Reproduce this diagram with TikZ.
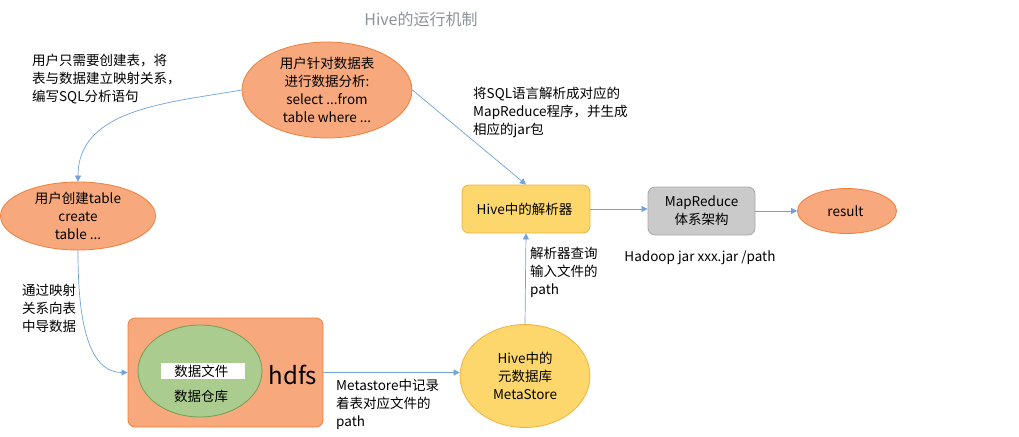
\documentclass[tikz,border=0pt]{standalone}
\usepackage{fontspec}
\setmainfont{Noto Sans CJK SC}
\usetikzlibrary{arrows.meta, positioning, shapes.geometric}

\definecolor{orangefill}{RGB}{247,168,124}
\definecolor{orangeline}{RGB}{236,128,60}
\definecolor{yellowfill}{RGB}{253,214,108}
\definecolor{yellowline}{RGB}{240,178,62}
\definecolor{grayfill}{RGB}{202,202,202}
\definecolor{grayline}{RGB}{168,168,168}
\definecolor{greenfill}{RGB}{170,204,142}
\definecolor{greenline}{RGB}{112,160,82}
\definecolor{arrowblue}{RGB}{112,162,220}
\definecolor{titlegray}{RGB}{140,146,154}

\begin{document}
\begin{tikzpicture}[
    x=1pt, y=-1pt,
    every node/.style={
        align=center,
        inner sep=0pt,
        font=\fontsize{13.5}{18}\selectfont
    },
    oval/.style={
        ellipse,
        draw=orangeline,
        fill=orangefill,
        line width=0.8pt
    },
    yellowoval/.style={
        ellipse,
        draw=yellowline,
        fill=yellowfill,
        line width=0.8pt
    },
    box/.style={
        draw,
        rounded corners=7pt,
        line width=0.8pt
    },
    note/.style={align=left, anchor=north west},
    arrow/.style={-{Triangle[width=6pt,length=6pt]}, draw=arrowblue, line width=0.7pt}
]
\useasboundingbox (0,0) rectangle (1019,436);

% ------------------------
% Title
% ------------------------
\node[text=titlegray, font=\fontsize{16}{20}\selectfont] (title) at (421,19) {Hive的运行机制};

% ------------------------
% Ellipses for the user
% ------------------------
\node[oval, minimum width=170pt, minimum height=96pt] (query) at (327,90) {
用户针对数据表\\
进行数据分析:\\
select ...from\\
table where ...
};

\node[oval, minimum width=155pt, minimum height=68pt] (create) at (78,216) {
用户创建table\\
create\\
table ...
};

% ------------------------
% Parser and MapReduce
% ------------------------
\node[box, draw=yellowline, fill=yellowfill, minimum width=128pt, minimum height=48pt] (parser) at (526,209) {
Hive中的解析器
};

\node[box, draw=grayline, fill=grayfill, minimum width=107pt, minimum height=48pt] (mapred) at (701.5,211) {
MapReduce\\
体系架构
};

\node[oval, minimum width=99pt, minimum height=45pt] (result) at (847,211) {
result
};

\node (hadoop) [below=15pt of mapred] {
Hadoop jar xxx.jar /path
};

% ------------------------
% hdfs with warehouse
% ------------------------
\node[box, draw=orangeline, fill=orangefill, minimum width=195pt, minimum height=109pt] (hdfs) at (225.5,372.5) {};

\node[ellipse, draw=greenline, fill=greenfill, line width=0.8pt, minimum width=124pt, minimum height=92pt] (warehouse) at (200,371) {};

\node[fill=white, minimum width=84pt, minimum height=16pt] (datafile) at (203,371) {
数据文件
};

\node (whlabel) at (201,396) {数据仓库};

\node[font=\fontsize{24}{26}\selectfont] (hdfslabel) at (293,375) {hdfs};

% ------------------------
% MetaStore
% ------------------------
\node[yellowoval, minimum width=130pt, minimum height=103pt] (meta) at (525,376) {
Hive中的\\
元数据库\\
MetaStore
};

% ------------------------
% Notes
% ------------------------
\node[note] (usernote) at (32,54) {
用户只需要创建表，将\\
表与数据建立映射关系，\\
编写SQL分析语句
};

\node[note] (sqlnote) at (473,87) {
将SQL语言解析成对应的\\
MapReduce程序，并生成\\
相应的jar包
};

\node[note] (loadnote) at (22,284) {
通过映射\\
关系向表\\
中导数据
};

\node[note] (pathnote) at (530,247) {
解析器查询\\
输入文件的\\
path
};

\node[note] (metanote) at (336,379) {
Metastore中记录\\
着表对应文件的\\
path
};

% ------------------------
% Arrows
% ------------------------
\draw[arrow] (query.west) to[out=190, in=90] (create.north);
\draw[arrow] (create.south) to[out=-90, in=180, looseness=0.9] (hdfs.west);
\draw[arrow] (query.east) -- (parser.north);
\draw[arrow] (parser.east) -- (mapred.west |- parser.east);
\draw[arrow] (mapred.east) -- (result.west);
\draw[arrow] (hdfs.east) -- (meta.west |- hdfs.east);
\draw[arrow] (meta.north) -- (parser.south);

\end{tikzpicture}
\end{document}
